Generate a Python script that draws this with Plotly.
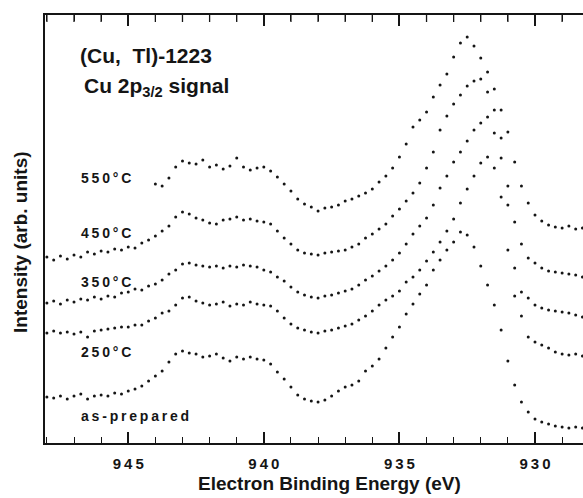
import plotly.graph_objects as go

# Binding energy grid (eV)
energy = [948.0, 947.75, 947.5, 947.25, 947.0, 946.75, 946.5, 946.25, 946.0, 945.75,
          945.5, 945.25, 945.0, 944.75, 944.5, 944.25, 944.0, 943.75, 943.5, 943.25,
          943.0, 942.75, 942.5, 942.25, 942.0, 941.75, 941.5, 941.25, 941.0, 940.75,
          940.5, 940.25, 940.0, 939.75, 939.5, 939.25, 939.0, 938.75, 938.5, 938.25,
          938.0, 937.75, 937.5, 937.25, 937.0, 936.75, 936.5, 936.25, 936.0, 935.75,
          935.5, 935.25, 935.0, 934.75, 934.5, 934.25, 934.0, 933.75, 933.5, 933.25,
          933.0, 932.75, 932.5, 932.25, 932.0, 931.75, 931.5, 931.25, 931.0, 930.75,
          930.5, 930.25, 930.0, 929.75, 929.5, 929.25, 929.0, 928.75, 928.5, 928.25]
energy_550 = energy[16:]

# Intensities (arb. units, offset stacked)
as_prepared = [46, 45, 47, 44, 47, 49, 44, 47, 48, 47,
               50, 49, 52, 54, 57, 62, 67, 72, 81, 89,
               92, 90, 89, 86, 87, 89, 85, 82, 86, 84,
               86, 84, 83, 79, 71, 64, 56, 48, 44, 42,
               41, 43, 47, 52, 56, 58, 62, 72, 77, 84,
               95, 106, 116, 129, 139, 149, 158, 173, 183, 193,
               201, 211, 208, 196, 177, 158, 138, 113, 82, 58,
               41, 31, 24, 21, 19, 17, 16, 15, 16, 15]
t250 = [110, 112, 110, 111, 109, 111, 106, 112, 113, 114,
        115, 116, 116, 118, 118, 122, 125, 130, 132, 138,
        145, 146, 142, 140, 138, 139, 141, 137, 139, 138,
        141, 139, 138, 137, 132, 125, 119, 115, 113, 111,
        110, 112, 113, 115, 117, 119, 123, 127, 132, 138,
        143, 147, 152, 161, 166, 173, 182, 191, 201, 212,
        224, 240, 254, 267, 280, 286, 275, 246, 193, 147,
        127, 106, 101, 98, 95, 91, 89, 88, 89, 87]
t350 = [140, 142, 139, 143, 141, 144, 143, 146, 144, 147,
        146, 150, 151, 154, 153, 157, 159, 163, 169, 173,
        179, 180, 178, 177, 176, 177, 175, 177, 176, 178,
        177, 176, 173, 171, 166, 162, 156, 151, 148, 146,
        145, 147, 148, 150, 152, 154, 158, 163, 167, 172,
        177, 183, 190, 199, 209, 217, 225, 238, 255, 267,
        281, 291, 302, 313, 320, 326, 310, 285, 238, 175,
        151, 145, 138, 135, 133, 132, 131, 130, 128, 126]
t450 = [186, 183, 187, 184, 188, 186, 191, 189, 192, 191,
        194, 193, 196, 195, 200, 203, 207, 212, 217, 226,
        231, 229, 225, 223, 220, 219, 223, 224, 226, 223,
        224, 222, 221, 219, 212, 205, 199, 193, 190, 189,
        188, 190, 191, 192, 193, 196, 199, 205, 209, 214,
        219, 227, 234, 242, 250, 260, 275, 291, 313, 327,
        339, 348, 357, 362, 364, 351, 333, 305, 257, 221,
        199, 185, 180, 175, 172, 171, 170, 169, 168, 166]
t550 = [259, 257, 265, 276, 282, 280, 279, 283, 276, 278,
        274, 277, 285, 276, 273, 275, 276, 272, 266, 259,
        252, 244, 239, 236, 232, 235, 236, 238, 242, 244,
        247, 250, 254, 261, 267, 275, 286, 299, 316, 323,
        331, 346, 358, 369, 386, 400, 406, 397, 385, 371,
        354, 333, 311, 281, 257, 240, 228, 222, 218, 216,
        215, 217, 214, 215]

tick_vals = [945, 940, 935, 930]
tick_text = ["9\u20094\u20095", "9\u20094\u20090", "9\u20093\u20095", "9\u20093\u20090"]
minor_vals = [948, 947, 946, 944, 943, 942, 941, 939, 938, 937, 936,
              934, 933, 932, 931, 929]

ink = "#151515"
font_family = "Liberation Sans, Arial, Helvetica, sans-serif"
x_range = [948.07, 928.23]

fig = go.Figure()
for name, xs, ys in [("as-prepared", energy, as_prepared), ("250°C", energy, t250),
                     ("350°C", energy, t350), ("450°C", energy, t450),
                     ("550°C", energy_550, t550)]:
    fig.add_trace(go.Scatter(x=xs, y=ys, mode="markers", name=name,
                             marker=dict(size=3, color=ink), showlegend=False,
                             hoverinfo="x+y", cliponaxis=True))

W, H = 583, 498
L, R, T, B = 45, 0, 15, 55
pw, ph = W - L - R, H - T - B

def px(xp):
    return (xp - L) / pw

def py(yp):
    return (H - B - yp) / ph

def sp(s):
    return "\u2009".join(list(s))

# top-axis minor tick marks, positioned through the x scale
shapes = []
for v in minor_vals:
    shapes.append(dict(type="line", xref="x", yref="paper", x0=v, x1=v,
                       y0=1.0, y1=1.0 - 7.0 / ph, layer="above",
                       line=dict(color=ink, width=1.3)))

ann = []
ann.append(dict(text="(Cu,  Tl)-1223", x=px(78), y=py(55), xanchor="left", yanchor="middle",
                font=dict(size=21)))
ann.append(dict(text="Cu 2p<sub>3/2</sub> signal", x=px(82), y=py(87), xanchor="left", yanchor="middle",
                font=dict(size=21)))
for lab, yy in [("550°C", 178), ("450°C", 233), ("350°C", 282), ("250°C", 352)]:
    ann.append(dict(text=sp(lab), x=px(79), y=py(yy), xanchor="left", yanchor="middle",
                    font=dict(size=14)))
ann.append(dict(text=sp("as-prepared"), x=px(79), y=py(416), xanchor="left", yanchor="middle",
                font=dict(size=14)))
ann.append(dict(text="Electron Binding Energy (eV)", x=px(329), y=py(484), xanchor="center",
                yanchor="middle", font=dict(size=19)))
ann.append(dict(text="Intensity (arb. units)", x=px(20), y=py(242), xanchor="center",
                yanchor="middle", textangle=-90, font=dict(size=19)))
for a in ann:
    a.update(xref="paper", yref="paper", showarrow=False)
    a["font"].update(family=font_family, color=ink, weight="bold")

fig.update_layout(
    width=W, height=H,
    margin=dict(l=L, r=R, t=T, b=B, autoexpand=False),
    paper_bgcolor="white", plot_bgcolor="white",
    annotations=ann, shapes=shapes,
    font=dict(family=font_family, color=ink),
    xaxis=dict(range=x_range, tickvals=tick_vals, ticktext=tick_text,
               ticks="inside", ticklen=11, tickwidth=1.5, tickcolor=ink,
               minor=dict(ticks="inside", ticklen=6, tickwidth=1.3, tickcolor=ink, dtick=1,
                          tick0=930, showgrid=False),
               showline=True, linewidth=1.6, linecolor=ink, mirror="ticks",
               showgrid=False, zeroline=False,
               tickfont=dict(size=15, color=ink, family=font_family, weight="bold"),
               ticklabelstandoff=6),
    yaxis=dict(range=[0, 428], showticklabels=False, ticks="", showline=True,
               linewidth=1.6, linecolor=ink, showgrid=False, zeroline=False),
)

fig.write_html("out.html")
